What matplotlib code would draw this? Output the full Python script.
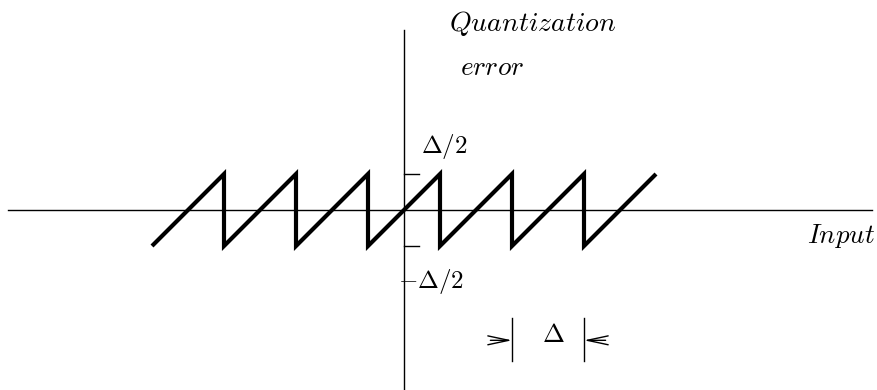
import matplotlib
matplotlib.use("Agg")
import matplotlib.pyplot as plt

plt.rcParams['mathtext.fontset'] = 'cm'

# sawtooth quantization error, in units of delta
saw_x = [-3.5, -2.5, -2.5, -1.5, -1.5, -0.5, -0.5, 0.5, 0.5, 1.5, 1.5, 2.5, 2.5, 3.5]
saw_y = [-0.5, 0.5, -0.5, 0.5, -0.5, 0.5, -0.5, 0.5, -0.5, 0.5, -0.5, 0.5, -0.5, 0.5]

tick_levels = [0.5, -0.5]
dim_span = [1.5, 2.5]   # the step marked with delta

fig = plt.figure(figsize=(8.78, 3.90), dpi=100)
ax = fig.add_axes([0, 0, 1, 1])
ax.set_xlim(-404 / 72, 474 / 72)
ax.set_ylim(-180 / 72, 210 / 72)
ax.axis('off')

# axes
ax.plot([-5.5, 6.5], [0, 0], color='black', lw=1.0)
ax.plot([0, 0], [-2.48, 2.5], color='black', lw=1.0)

# ticks at +-delta/2
for lev in tick_levels:
    ax.plot([0, 0.21], [lev, lev], color='black', lw=1.0)

ax.plot(saw_x, saw_y, color='black', lw=3.0,
        solid_joinstyle='miter', solid_capstyle='butt')

ax.text(0.62, 2.48, r'$Quantization$', fontsize=20, ha='left', va='baseline')
ax.text(0.78, 1.88, r'$error$', fontsize=19.5, ha='left', va='baseline')
ax.text(5.60, -0.46, r'$Input$', fontsize=19.5, ha='left', va='baseline')
ax.text(0.24, 0.79, r'$\Delta/2$', fontsize=18, ha='left', va='baseline')
ax.text(-0.08, -1.08, r'$-\Delta/2$', fontsize=18, ha='left', va='baseline')

# dimension marker for one step
for xb in dim_span:
    ax.plot([xb, xb], [-1.5, -2.1], color='black', lw=1.0)
arrow = dict(arrowstyle='->,head_length=1.5,head_width=0.32', color='black',
             lw=1.0, shrinkA=0, shrinkB=0, mutation_scale=10)
ax.annotate('', xy=(dim_span[0], -1.81), xytext=(dim_span[0] - 0.3, -1.81), arrowprops=arrow)
ax.annotate('', xy=(dim_span[1], -1.81), xytext=(dim_span[1] + 0.3, -1.81), arrowprops=arrow)
ax.text(2.07, -1.83, r'$\Delta$', fontsize=19, ha='center', va='baseline')

fig.savefig('out.png', dpi=100)
